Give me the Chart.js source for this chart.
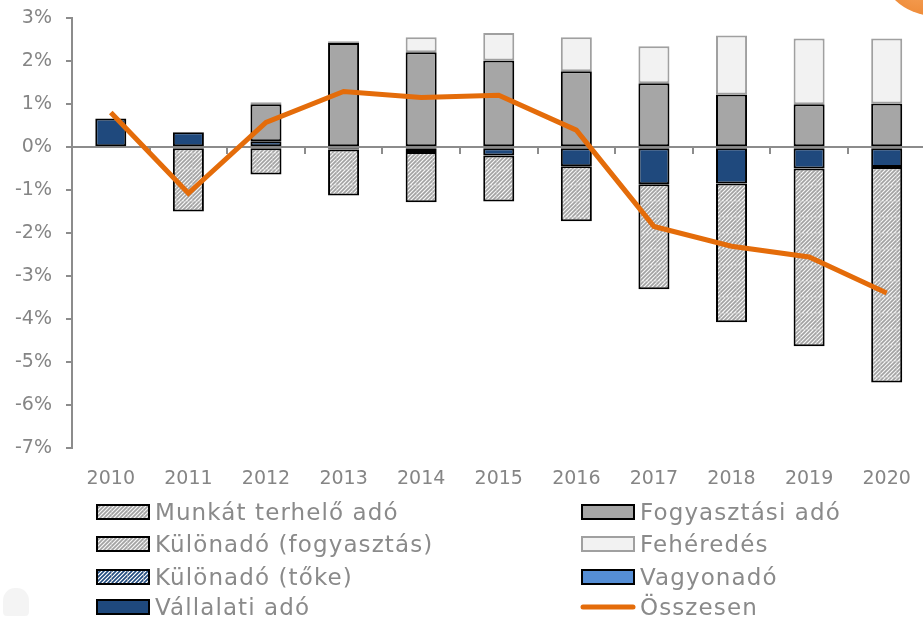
<!DOCTYPE html>
<html>
<head>
<meta charset="utf-8">
<script src="https://cdn.jsdelivr.net/npm/chart.js@4.4.1/dist/chart.umd.min.js"></script>
<style>
    body { margin: 0; width: 923px; height: 618px; overflow: hidden; background: #fff; position: relative; font-family: "DejaVu Sans", sans-serif; }
    #wrap { position: absolute; left: 0; top: -7px; width: 928px; height: 515px; }
    #legend { position: absolute; left: 0; top: 0; width: 923px; height: 618px; pointer-events: none; }
    .item { position: absolute; display: flex; align-items: center; color: #8a8a8a; font-size: 23px; letter-spacing: 1.1px; white-space: nowrap; height: 30px; }
    .item canvas { margin-right: 4px; }
    #logo { position: absolute; right: -70px; top: -100px; width: 116px; height: 116px; border-radius: 50%; background: radial-gradient(circle at 35% 75%, #f6a25a, #e46c0a 60%); }
    #crest { position: absolute; left: 3px; top: 588px; width: 26px; height: 28px; border-radius: 45% 45% 15% 15%; background: #ececec; opacity: 0.6; }
</style>
</head>
<body>
<div id="logo"></div>
<div id="crest"></div>
<div id="wrap"><canvas id="chart"></canvas></div>
<div id="legend"></div>
<script>
const years = ['2010', '2011', '2012', '2013', '2014', '2015', '2016', '2017', '2018', '2019', '2020'];

const vallalatiAdo = [0.67, 0.35, 0.14, -0.05, -0.11, -0.19, -0.44, -0.86, -0.84, -0.49, -0.46];
const vagyonado = [null, null, null, null, null, null, null, null, null, null, null];
const kulonadoToke = [null, null, null, null, null, null, null, null, null, null, null];
const kulonadoFogy = [null, null, null, null, null, null, null, null, null, null, null];
const munkatTerhelo = [null, -1.49, -0.63, -1.07, -1.17, -1.07, -1.28, -2.44, -3.23, -4.14, -5.01];
const fogyasztasiAdo = [null, null, 0.86, 2.43, 2.21, 2.02, 1.77, 1.49, 1.23, 1.00, 1.02];
const feheredes = [null, null, 0.05, 0.04, 0.35, 0.64, 0.79, 0.86, 1.37, 1.53, 1.51];
const osszesen = [0.81, -1.07, 0.58, 1.30, 1.16, 1.21, 0.40, -1.84, -2.30, -2.55, -3.39];

const yTicks = [-7, -6, -5, -4, -3, -2, -1, 0, 1, 2, 3];

const FONT = '"DejaVu Sans", sans-serif';
const AXIS_GRAY = '#8c8c8c';
const TEXT_GRAY = '#858585';

// where the plot box sits in the original picture
const PLOT_TOP = 18;
const PLOT_BOTTOM = 448;

function makeHatch(bg, stripe) {
    const c = document.createElement('canvas');
    c.width = 16;
    c.height = 16;
    const g = c.getContext('2d');
    g.fillStyle = bg;
    g.fillRect(0, 0, 16, 16);
    g.strokeStyle = stripe;
    g.lineWidth = 1.6;
    g.beginPath();
    for (let k = -16; k <= 32; k += 4) {
        g.moveTo(k, 16);
        g.lineTo(k + 16, 0);
    }
    g.stroke();
    g.fillStyle = 'rgba(200,200,200,0.5)';
    g.fillRect(0, 0, 16, 1);
    g.fillRect(0, 0, 1, 16);
    return g.createPattern(c, 'repeat');
}

const grayHatch = makeHatch('#f4f4f4', '#a2a2a2');
const blueHatch = makeHatch('#ffffff', '#1f497d');

const barDatasets = [
    { label: 'Vállalati adó', data: vallalatiAdo, backgroundColor: '#1f497d', borderColor: '#000' },
    { label: 'Vagyonadó', data: vagyonado, backgroundColor: '#558ed5', borderColor: '#000' },
    { label: 'Különadó (tőke)', data: kulonadoToke, backgroundColor: blueHatch, borderColor: '#000' },
    { label: 'Különadó (fogyasztás)', data: kulonadoFogy, backgroundColor: grayHatch, borderColor: '#000' },
    { label: 'Munkát terhelő adó', data: munkatTerhelo, backgroundColor: grayHatch, borderColor: '#000' },
    { label: 'Fogyasztási adó', data: fogyasztasiAdo, backgroundColor: '#a6a6a6', borderColor: '#000' },
    { label: 'Fehéredés', data: feheredes, backgroundColor: '#f2f2f2', borderColor: '#a0a0a0' }
].map(d => Object.assign(d, { type: 'bar', borderWidth: 2, borderSkipped: false, order: 1 }));

const lineDataset = {
    type: 'line',
    label: 'Összesen',
    data: osszesen,
    borderColor: '#e46c0a',
    backgroundColor: '#e46c0a',
    borderWidth: 5,
    pointRadius: 0,
    tension: 0,
    stack: 'total',
    order: 0
};

const chart = new Chart(document.getElementById('chart'), {
    type: 'bar',
    data: {
        labels: years,
        datasets: [...barDatasets, lineDataset]
    },
    options: {
        responsive: true,
        maintainAspectRatio: false,
        animation: false,
        layout: { padding: { left: 0, top: 4, right: 0, bottom: 0 } },
        plugins: {
            legend: { display: false },
            tooltip: { enabled: false }
        },
        datasets: {
            bar: { categoryPercentage: 1, barPercentage: 0.4 }
        },
        scales: {
            x: {
                stacked: true,
                position: { y: 0 },
                offset: true,
                ticks: { display: false },
                grid: { offset: true, drawOnChartArea: false, drawTicks: true, tickLength: 6, color: AXIS_GRAY, lineWidth: 2 },
                border: { color: AXIS_GRAY, width: 2 }
            },
            x2: {
                type: 'category',
                position: 'bottom',
                offset: true,
                grid: { display: false },
                border: { display: false },
                ticks: { color: TEXT_GRAY, font: { family: FONT, size: 19 }, padding: 11 }
            },
            y: {
                stacked: true,
                min: yTicks[0],
                max: yTicks[yTicks.length - 1],
                afterBuildTicks: axis => { axis.ticks = yTicks.map(v => ({ value: v })); },
                afterFit: axis => { axis.width = 72; },
                ticks: {
                    color: TEXT_GRAY,
                    font: { family: FONT, size: 19 },
                    padding: 14,
                    callback: v => v + '%'
                },
                grid: { drawOnChartArea: false, tickLength: 6, color: AXIS_GRAY, lineWidth: 2 },
                border: { color: AXIS_GRAY, width: 2 }
            }
        }
    }
});

// nudge the canvas box so the plot area lands where it is in the original
function fitPlotArea() {
    const wrap = document.getElementById('wrap');
    for (let i = 0; i < 4; i++) {
        const a = chart.chartArea;
        const h = wrap.offsetHeight + (PLOT_BOTTOM - PLOT_TOP) - (a.bottom - a.top);
        const top = PLOT_TOP - a.top;
        wrap.style.height = Math.round(h) + 'px';
        wrap.style.top = Math.round(top) + 'px';
        chart.resize();
    }
}

// legend in two columns, same row order as the original
const legendOrder = ['Munkát terhelő adó', 'Fogyasztási adó', 'Különadó (fogyasztás)', 'Fehéredés',
    'Különadó (tőke)', 'Vagyonadó', 'Vállalati adó', 'Összesen'];
const legendCols = [95, 580];
const legendRows = [512, 544, 577, 607];

function initLegend() {
    const box = document.getElementById('legend');
    legendOrder.forEach((name, i) => {
        const ds = chart.data.datasets.find(d => d.label === name);
        const item = document.createElement('div');
        item.className = 'item';
        item.style.left = legendCols[i % 2] + 'px';
        item.style.top = (legendRows[Math.floor(i / 2)] - 15) + 'px';

        const sw = document.createElement('canvas');
        sw.width = 56;
        sw.height = 18;
        const g = sw.getContext('2d');
        if (ds.type === 'line') {
            g.strokeStyle = ds.borderColor;
            g.lineWidth = 5;
            g.lineCap = 'round';
            g.beginPath();
            g.moveTo(3, 9);
            g.lineTo(53, 9);
            g.stroke();
        } else {
            g.fillStyle = ds.backgroundColor;
            g.fillRect(2, 2, 52, 14);
            g.strokeStyle = ds.borderColor;
            g.lineWidth = 2;
            g.strokeRect(2, 2, 52, 14);
        }
        item.appendChild(sw);
        const txt = document.createElement('span');
        txt.textContent = name;
        item.appendChild(txt);
        box.appendChild(item);
    });
}

fitPlotArea();
initLegend();
</script>
</body>
</html>
